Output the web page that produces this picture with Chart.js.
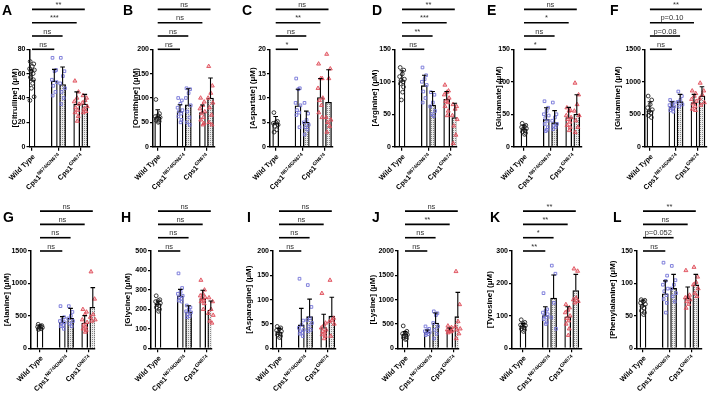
<!DOCTYPE html>
<html>
<head>
<meta charset="utf-8">
<script src="https://cdn.jsdelivr.net/npm/chart.js@4.4.1/dist/chart.umd.min.js"></script>
<style>
    html, body { margin: 0; padding: 0; background: #fff; }
    #fig { position: relative; width: 711px; height: 394px; overflow: hidden; background: #fff; }
    .letter { position: absolute; font: bold 14px "Liberation Sans", Arial, sans-serif; line-height: 14px; color: #000; }
</style>
</head>
<body>
<div id="fig"></div>
<script>
// ---- categories ----
const groupNames = ['Wild Type', 'Cps1', 'Cps1'];
const groupSups = ['', 'N674/GN674', 'GN674'];
const letters = ['A', 'B', 'C', 'D', 'E', 'F', 'G', 'H', 'I', 'J', 'K', 'L'];
const analytes = ['Citrulline', 'Ornithine', 'Aspartate', 'Arginine', 'Glutamate', 'Glutamine',
    'Alanine', 'Glycine', 'Asparagine', 'Lysine', 'Tyrosine', 'Phenylalanine'];
const yMaxes = [80, 200, 20, 150, 150, 1500, 1500, 500, 200, 2000, 300, 150];
const ySteps = [20, 50, 5, 50, 50, 500, 500, 100, 50, 500, 100, 50];

// ---- values: WT, N674/GN674 (open, dotted), GN674 (open, dotted) ----
const citrullineMean = [55, 54, 51, 35, 35];
const citrullineSD = [8, 9.5, 14.5, 10, 8];
const citrullinePts = [[70, 68, 66, 64, 63, 62, 60, 57, 55, 52, 48, 41, 38], [73, 63, 62, 55, 53, 50, 45, 42],
    [73, 62, 58, 52, 48, 45, 40, 35], [54, 45, 40, 37, 35, 32, 30, 28, 25, 21], [42, 40, 38, 36, 33, 31, 29, 28]];
const citrullineSig = ['ns', 'ns', '***', '**'];

const ornithineMean = [61, 72, 86, 70, 100];
const ornithineSD = [15, 14, 33, 15.5, 41];
const ornithinePts = [[97, 68, 64, 62, 60, 58, 56, 54, 52, 50], [100, 95, 88, 80, 75, 72, 68, 62, 55, 50],
    [120, 118, 110, 100, 85, 72, 60, 50, 45], [100, 92, 85, 78, 72, 68, 60, 55, 48, 45], [165, 125, 110, 100, 90, 80, 65, 50, 45]];
const ornithineSig = ['ns', 'ns', 'ns', 'ns'];

const aspartateMean = [4.8, 8.4, 5, 10.1, 9.1];
const aspartateSD = [1.4, 3.4, 2.3, 3.9, 6.7];
const aspartatePts = [[7, 5.2, 5, 4.8, 4.5, 4.2, 3.5, 3], [14, 12, 11.8, 9, 8.5, 7.5, 7, 6.5, 4],
    [9, 6.8, 5.5, 5, 4.5, 4, 3.5, 2.5], [17, 14, 14, 12, 10, 9.5, 8.5, 7, 6], [19, 16, 14, 6, 5.5, 5, 4.2, 3]];
const aspartateSig = ['*', 'ns', '**', 'ns'];

const arginineMean = [102, 94, 64, 73, 45];
const arginineSD = [15, 16, 21, 12, 22];
const argininePts = [[122, 118, 112, 108, 104, 102, 100, 97, 92, 84, 72], [122, 110, 104, 100, 95, 85, 75, 68],
    [84, 80, 68, 62, 55, 50, 47], [95, 86, 84, 80, 75, 70, 68, 62, 55, 48], [65, 62, 58, 48, 42, 32, 18, 5]];
const arginineSig = ['ns', '**', '***', '**'];

const glutamateMean = [27, 42, 37, 45, 50];
const glutamateSD = [6.5, 18, 18.5, 15.5, 30];
const glutamatePts = [[36, 33, 31, 30, 28, 27, 25, 23, 21, 19], [70, 60, 55, 50, 48, 44, 40, 35, 30, 26, 24],
    [68, 50, 45, 40, 35, 32, 30, 27], [60, 56, 55, 48, 45, 42, 38, 33, 30, 25], [98, 80, 65, 55, 48, 40, 30, 22]];
const glutamateSig = ['*', 'ns', '*', 'ns'];

const glutamineMean = [555, 616, 693, 678, 780];
const glutamineSD = [138, 77, 113, 128, 144];
const glutaminePts = [[780, 720, 650, 600, 570, 540, 520, 480, 450], [720, 680, 660, 640, 620, 600, 590, 560, 540],
    [850, 780, 720, 690, 650, 620], [860, 820, 780, 730, 700, 660, 620, 580, 560], [980, 860, 800, 740, 680, 640]];
const glutamineSig = ['ns', 'p=0.08', 'p=0.10', '**'];

const alanineMean = [318, 400, 462, 390, 632];
const alanineSD = [42, 88, 154, 113, 303];
const alaninePts = [[370, 350, 340, 330, 320, 310, 300, 290], [650, 480, 440, 420, 400, 380, 360, 340, 300],
    [650, 560, 500, 460, 420, 380, 340], [600, 560, 520, 440, 400, 360, 330, 300, 280, 250], [1180, 760, 520, 480, 440, 420]];
const alanineSig = ['ns', 'ns', 'ns', 'ns'];

const glycineMean = [228, 269, 188, 255, 197];
const glycineSD = [15, 34, 31, 43, 46];
const glycinePts = [[270, 250, 245, 240, 232, 225, 220, 210, 200, 190], [385, 310, 290, 280, 270, 262, 255, 245, 240],
    [220, 210, 200, 190, 185, 175, 165, 160], [350, 300, 280, 270, 262, 255, 248, 240, 230, 200], [260, 240, 200, 180, 170, 140, 130]];
const glycineSig = ['ns', 'ns', 'ns', 'ns'];

const asparagineMean = [33, 48, 65, 42.5, 66];
const asparagineSD = [8, 34, 36, 27.5, 39];
const asparaginePts = [[45, 42, 40, 37, 35, 32, 30, 28, 25, 22], [143, 57, 48, 42, 38, 35, 32, 30, 25],
    [130, 85, 62, 58, 52, 45, 38, 35], [113, 52, 48, 42, 38, 35, 32, 28, 25, 20], [140, 62, 58, 55, 50, 25]];
const asparagineSig = ['ns', 'ns', 'ns', 'ns'];

const lysineMean = [288, 335, 520, 370, 650];
const lysineSD = [54, 42, 206, 48, 500];
const lysinePts = [[460, 350, 320, 300, 280, 260, 240, 220, 200, 180], [450, 400, 370, 350, 330, 310, 290, 270],
    [760, 720, 680, 520, 450, 380, 300, 200], [460, 430, 400, 380, 360, 350, 340, 320], [1580, 900, 550, 450, 400, 380, 300, 200]];
const lysineSig = ['ns', 'ns', '**', 'ns'];

const tyrosineMean = [68, 101, 155, 97, 178];
const tyrosineSD = [9, 27, 71, 31, 50];
const tyrosinePts = [[88, 80, 76, 72, 70, 67, 64, 60, 57, 52], [170, 120, 115, 110, 105, 100, 95, 90, 80, 75],
    [255, 230, 140, 95, 60], [135, 125, 118, 110, 100, 92, 85, 75, 60, 40], [245, 238, 155, 150, 145, 140]];
const tyrosineSig = ['**', '*', '**', '**'];

const phenylalanineMean = [66, 84, 92.5, 77, 97.7];
const phenylalanineSD = [8.5, 20, 21.5, 17.5, 16.3];
const phenylalaninePts = [[75, 74, 72, 70, 68, 65, 62, 58, 55, 52], [132, 112, 104, 98, 92, 88, 82, 76, 70, 55],
    [127, 105, 98, 92, 85, 80, 72], [120, 82, 80, 78, 75, 72, 68, 62], [125, 110, 102, 98, 92, 85, 80]];
const phenylalanineSig = ['ns', 'p=0.052', 'ns', '**'];

const means = [citrullineMean, ornithineMean, aspartateMean, arginineMean, glutamateMean, glutamineMean,
    alanineMean, glycineMean, asparagineMean, lysineMean, tyrosineMean, phenylalanineMean];
const sds = [citrullineSD, ornithineSD, aspartateSD, arginineSD, glutamateSD, glutamineSD,
    alanineSD, glycineSD, asparagineSD, lysineSD, tyrosineSD, phenylalanineSD];
const points = [citrullinePts, ornithinePts, aspartatePts, argininePts, glutamatePts, glutaminePts,
    alaninePts, glycinePts, asparaginePts, lysinePts, tyrosinePts, phenylalaninePts];
const sigs = [citrullineSig, ornithineSig, aspartateSig, arginineSig, glutamateSig, glutamineSig,
    alanineSig, glycineSig, asparagineSig, lysineSig, tyrosineSig, phenylalanineSig];

// ---- layout (page pixels) ----
const FONT = '"Liberation Sans", Arial, sans-serif';
const colLeft = [0, 118, 237, 355, 474, 592];
const colWidth = [118, 119, 118, 119, 118, 119];
const rowTop = [0, 197];
const ROW_H = 197;
const axisX = [29.5, 153, 270, 395, 514, 645, 31, 151, 273, 398, 512, 637];
const wtX = [32, 157.7, 275.7, 402, 524, 650, 40, 158, 279, 405, 523, 643];
const endX = [90, 215, 333, 457, 582, 707, 95, 212, 336, 459, 582, 702];
const titleOff = [15, 17.5, 17, 20, 15, 27.5, 24, 23, 24.5, 25, 22.5, 24.5];
const letterX = [2, 123, 242, 372, 487, 610, 3, 121, 247, 372, 490, 613];
const SLOT = [0, 22.3, 30.6, 44.7, 52.8];
const GROUP_TICK = [0, 26.45, 48.75];
const JITTER = [-1.8, 1.8, 0.3, -2.4, 2.4, -1, 1.1, -1.6, 1.5, 0.6, -0.6, 2.1, -2.1, 0];

const BLUE = '#7474d8';
const RED = '#e0505c';

Chart.defaults.font.family = FONT;

function dotPattern() {
    const c = document.createElement('canvas');
    c.width = 2; c.height = 2;
    const g = c.getContext('2d');
    g.fillStyle = '#ececec';
    g.fillRect(0, 0, 2, 2);
    g.fillStyle = '#8a8a8a';
    g.fillRect(0, 0, 1, 1);
    return g.createPattern(c, 'repeat');
}

const fig = document.getElementById('fig');

function makePanel(i) {
    const row = Math.floor(i / 6), col = i % 6;
    const left = colLeft[col], width = colWidth[col];
    const areaTop = row ? 54 : 49.3;
    const areaBottom = row ? 151.3 : 146.7;

    const cv = document.createElement('canvas');
    cv.width = width;
    cv.height = ROW_H;
    cv.style.cssText = `position:absolute;left:${left}px;top:${rowTop[row]}px;width:${width}px;height:${ROW_H}px`;
    fig.appendChild(cv);

    const lt = document.createElement('div');
    lt.className = 'letter';
    lt.textContent = letters[i];
    lt.style.left = letterX[i] + 'px';
    lt.style.top = (rowTop[row] + (row ? 13 : 3)) + 'px';
    fig.appendChild(lt);

    const pattern = dotPattern();
    const pointStyles = ['circle', 'rect', 'rect', 'triangle', 'triangle'];
    const pointColors = ['#222', BLUE, BLUE, RED, RED];
    const pointFills = ['rgba(0,0,0,0)', 'rgba(0,0,0,0)', 'rgba(0,0,0,0)', 'rgba(224,80,92,0.35)', 'rgba(224,80,92,0.35)'];

    const datasets = points[i].map((vals, g) => ({
        type: 'scatter',
        order: 1,
        data: vals.map((v, k) => ({ x: SLOT[g] + JITTER[k % JITTER.length], y: v })),
        pointStyle: pointStyles[g],
        pointRadius: g >= 3 ? 2.3 : 1.9,
        pointBorderWidth: 0.9,
        pointBorderColor: pointColors[g],
        pointBackgroundColor: pointFills[g],
        clip: false
    }));
    datasets.push({
        type: 'bar',
        order: 2,
        data: means[i].map((v, g) => ({ x: SLOT[g], y: v })),
        backgroundColor: ['#fff', '#fff', pattern, '#fff', pattern],
        borderColor: '#000',
        borderWidth: 1.3,
        barThickness: 6
    });

    const decor = {
        id: 'decor' + i,
        afterDatasetsDraw(chart) {
            const { ctx, scales: { x, y } } = chart;
            ctx.save();
            ctx.strokeStyle = '#000';
            ctx.lineWidth = 1.1;
            means[i].forEach((m, g) => {
                const cx = x.getPixelForValue(SLOT[g]);
                const y0 = y.getPixelForValue(m);
                const y1 = y.getPixelForValue(m + sds[i][g]);
                ctx.beginPath();
                ctx.moveTo(cx, y0);
                ctx.lineTo(cx, y1);
                ctx.moveTo(cx - 2.3, y1);
                ctx.lineTo(cx + 2.3, y1);
                ctx.stroke();
            });
            ctx.restore();
        },
        afterDraw(chart) {
            const { ctx, chartArea: a, scales: { x } } = chart;
            ctx.save();
            // significance brackets
            const x0 = x.getPixelForValue(0);
            sigs[i].forEach((s, k) => {
                const yy = a.top - k * 13.3;
                const x2 = x.getPixelForValue(SLOT[k + 1]);
                ctx.strokeStyle = '#000';
                ctx.lineWidth = 1.6;
                ctx.beginPath();
                ctx.moveTo(x0, yy);
                ctx.lineTo(x2, yy);
                ctx.stroke();
                ctx.fillStyle = '#333';
                ctx.font = `7.5px ${FONT}`;
                ctx.textAlign = 'center';
                ctx.textBaseline = 'alphabetic';
                ctx.fillText(s, (x0 + x2) / 2, yy - 2.5);
            });
            // x group labels
            const MAIN = `bold 7.2px ${FONT}`;
            const SUP = `bold 5px ${FONT}`;
            GROUP_TICK.forEach((v, g) => {
                const tx = x.getPixelForValue(v);
                ctx.save();
                ctx.translate(tx + 2, a.bottom + 9);
                ctx.rotate(-Math.PI / 4);
                ctx.textBaseline = 'middle';
                ctx.textAlign = 'left';
                ctx.fillStyle = '#000';
                ctx.font = MAIN;
                const w1 = ctx.measureText(groupNames[g]).width;
                ctx.font = SUP;
                const w2 = groupSups[g] ? ctx.measureText(groupSups[g]).width : 0;
                ctx.font = MAIN;
                ctx.fillText(groupNames[g], -w1 - w2, 0);
                if (groupSups[g]) {
                    ctx.font = SUP;
                    ctx.fillText(groupSups[g], -w2, -2.6);
                }
                ctx.restore();
            });
            // y title
            ctx.save();
            ctx.translate(axisX[i] - colLeft[col] - titleOff[i], (a.top + a.bottom) / 2);
            ctx.rotate(-Math.PI / 2);
            ctx.textAlign = 'center';
            ctx.textBaseline = 'middle';
            ctx.fillStyle = '#000';
            ctx.font = `bold 8px ${FONT}`;
            ctx.fillText(`[${analytes[i]}] (\u03bcM)`, 0, 0);
            ctx.restore();
            ctx.restore();
        }
    };

    new Chart(cv, {
        type: 'bar',
        data: { datasets: datasets },
        options: {
            responsive: false,
            animation: false,
            events: [],
            layout: {
                padding: {
                    left: 0,
                    top: areaTop,
                    right: left + width - endX[i],
                    bottom: ROW_H - areaBottom - 4
                }
            },
            plugins: { legend: { display: false }, tooltip: { enabled: false } },
            scales: {
                x: {
                    type: 'linear',
                    offset: false,
                    min: axisX[i] - wtX[i],
                    max: endX[i] - wtX[i],
                    afterBuildTicks: s => { s.ticks = GROUP_TICK.map(v => ({ value: v })); },
                    afterFit: s => { s.height = 4; s.paddingLeft = 0; s.paddingRight = 0; },
                    ticks: { display: false },
                    grid: { offset: false, drawOnChartArea: false, drawTicks: true, tickLength: 4, color: '#000', lineWidth: 1.2 },
                    border: { display: true, color: '#000', width: 1.5 }
                },
                y: {
                    min: 0,
                    max: yMaxes[i],
                    afterFit: s => { s.width = axisX[i] - left; s.paddingTop = 0; s.paddingBottom = 0; },
                    ticks: {
                        stepSize: ySteps[i],
                        color: '#000',
                        padding: 1,
                        callback: v => String(v),
                        font: { size: 7, weight: 'bold', family: FONT }
                    },
                    grid: { drawOnChartArea: false, tickLength: 3, color: '#000', lineWidth: 1.2 },
                    border: { display: true, color: '#000', width: 1.5 }
                }
            }
        },
        plugins: [decor]
    });
}

for (let i = 0; i < 12; i++) makePanel(i);
</script>
</body>
</html>
